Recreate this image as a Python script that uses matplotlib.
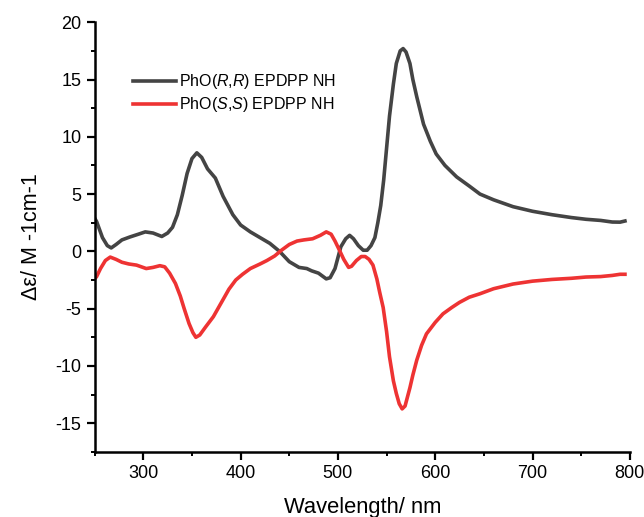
import matplotlib.pyplot as plt
import numpy as np
from matplotlib.ticker import MultipleLocator

plt.rcParams['font.family'] = ['Liberation Sans', 'DejaVu Sans']
plt.rcParams['mathtext.fontset'] = 'custom'
plt.rcParams['mathtext.rm'] = 'Liberation Sans'
plt.rcParams['mathtext.it'] = 'Liberation Sans:italic'
plt.rcParams['axes.unicode_minus'] = False

# CD spectra
wl_rr = [250, 252, 258, 263, 267, 272, 278, 286, 295, 302, 310, 319, 325, 330, 335,
         340, 345, 350, 355, 360, 366, 374, 382, 392, 400, 410, 420, 430, 440, 450,
         460, 468, 473, 480, 488, 492, 497, 503, 508, 512, 516, 521, 526, 530, 534,
         538, 541, 544, 547, 550, 553, 557, 560, 564, 567, 570, 574, 577, 581, 588,
         595, 601, 610, 622, 635, 646, 660, 680, 700, 720, 740, 755, 770, 782, 790, 795]
cd_rr = [2.9, 2.6, 1.2, 0.5, 0.3, 0.6, 1.0, 1.25, 1.5, 1.7, 1.6, 1.3, 1.6, 2.1, 3.2,
         4.9, 6.8, 8.1, 8.6, 8.2, 7.2, 6.4, 4.8, 3.2, 2.3, 1.7, 1.2, 0.7, 0.0, -0.9,
         -1.4, -1.5, -1.7, -1.9, -2.4, -2.3, -1.5, 0.4, 1.1, 1.4, 1.1, 0.5, 0.1, 0.1, 0.5,
         1.2, 2.5, 4.0, 6.2, 9.0, 11.8, 14.6, 16.4, 17.5, 17.7, 17.4, 16.4, 15.0, 13.5, 11.1,
         9.6, 8.5, 7.5, 6.5, 5.7, 5.0, 4.5, 3.9, 3.5, 3.2, 2.95, 2.8, 2.7, 2.56, 2.55, 2.65]

wl_ss = [250, 252, 256, 261, 266, 272, 278, 285, 293, 303, 310, 317, 322, 327, 333,
         338, 342, 347, 351, 354, 358, 364, 372, 380, 388, 395, 402, 410, 420, 427,
         435, 442, 450, 458, 465, 474, 482, 488, 493, 497, 501, 506, 511, 514, 519,
         524, 528, 532, 536, 540, 543, 546.5, 550, 553, 557, 560, 563, 566, 569, 574,
         577, 581, 586, 591, 600, 608, 617, 625, 635, 646, 660, 680, 700, 720, 740,
         755, 770, 782, 790, 795]
cd_ss = [-2.4, -2.2, -1.5, -0.8, -0.5, -0.7, -0.95, -1.1, -1.2, -1.5, -1.4, -1.25, -1.35, -1.9, -2.8,
         -3.9, -5.0, -6.3, -7.1, -7.5, -7.3, -6.6, -5.7, -4.5, -3.3, -2.5, -2.0, -1.5, -1.1, -0.8,
         -0.4, 0.1, 0.6, 0.9, 1.0, 1.1, 1.4, 1.7, 1.5, 0.9, 0.2, -0.7, -1.4, -1.3, -0.8,
         -0.45, -0.45, -0.7, -1.2, -2.4, -3.6, -4.9, -7.0, -9.2, -11.3, -12.4, -13.3, -13.75, -13.5, -11.9,
         -10.8, -9.5, -8.2, -7.2, -6.2, -5.45, -4.9, -4.45, -4.0, -3.7, -3.26, -2.85, -2.6, -2.45, -2.35,
         -2.24, -2.2, -2.1, -2.0, -2.0]

fig = plt.figure(figsize=(6.44, 5.17), dpi=100)
ax = fig.add_axes([0.147, 0.126, 0.831, 0.831])

ax.plot(wl_rr, cd_rr, color='#444444', lw=2.6, label=r'PhO($R$,$R$) EPDPP NH')
ax.plot(wl_ss, cd_ss, color='#ee3333', lw=2.6, label=r'PhO($S$,$S$) EPDPP NH')

ax.set_xlim(250, 800)
ax.set_ylim(-17.5, 20)
ax.xaxis.set_minor_locator(MultipleLocator(50))
ax.yaxis.set_major_locator(MultipleLocator(5))
ax.yaxis.set_minor_locator(MultipleLocator(2.5))
ax.set_xticks(range(300, 801, 100))

for s in ['top', 'right']:
    ax.spines[s].set_visible(False)
for s in ['left', 'bottom']:
    ax.spines[s].set_linewidth(1.8)
ax.tick_params(which='major', direction='out', length=6, width=1.6, labelsize=13)
ax.tick_params(which='minor', direction='out', length=3, width=1.4)

ax.set_xlabel('Wavelength/ nm', fontsize=15.8, labelpad=11)
ax.set_ylabel('Δε/ M -1cm-1', fontsize=15.5, labelpad=10)

ax.legend(loc='upper left', bbox_to_anchor=(0.057, 0.902), frameon=False,
          fontsize=11.5, handlelength=2.7, handletextpad=0.15, labelspacing=0.25,
          borderpad=0)

plt.savefig('out.png', dpi=100)
